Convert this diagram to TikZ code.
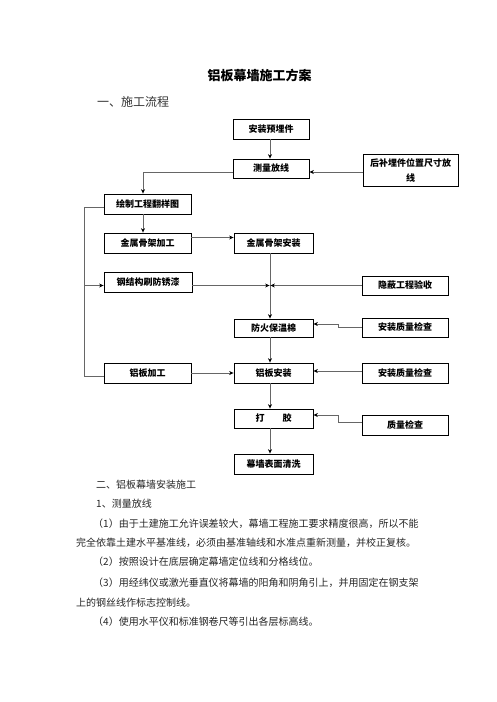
\documentclass[tikz,border=0pt]{standalone}
\usepackage{fontspec}
\setmainfont{Noto Sans CJK SC}
\usetikzlibrary{arrows.meta}
\begin{document}
\begin{tikzpicture}[x=1pt,y=-1pt,
  box/.style={draw=black,line width=0.8pt,inner sep=0pt,font=\fontsize{9}{15}\selectfont\bfseries,align=center},
  conn/.style={draw=black!60,line width=0.8pt},
  arr/.style={conn,-{Stealth[length=4.5pt,width=4pt,color=black]}},
  body/.style={anchor=west,inner sep=0pt,font=\fontsize{10}{12}\selectfont,text=black!85}]
\fill[white] (0,0) rectangle (496,702);
\path[use as bounding box] (0,0) rectangle (496,702);

\node[inner sep=0pt,font=\fontsize{13}{15}\selectfont\bfseries] (title) at (259.5,75) {铝板幕墙施工方案};
\node[anchor=west,inner sep=0pt,font=\fontsize{12}{14}\selectfont,text=black!80] (h1) at (97,102) {一、施工流程};

\node[box,minimum width=76,minimum height=20] (a) at (271,129) {安装预埋件};
\node[box,minimum width=76,minimum height=19] (b) at (271,168.5) {测量放线};
\node[box,minimum width=95,minimum height=32] (c) at (410.5,170) {后补埋件位置尺寸放\\线};
\node[box,minimum width=87,minimum height=20] (d) at (147.5,204) {绘制工程翻样图};
\node[box,minimum width=87,minimum height=20] (e) at (147.5,243) {金属骨架加工};
\node[box,minimum width=79,minimum height=20] (f) at (273.5,243) {金属骨架安装};
\node[box,minimum width=88,minimum height=20] (g) at (148,282) {钢结构刷防锈漆};
\node[box,minimum width=86,minimum height=19] (h) at (405,285.5) {隐蔽工程验收};
\node[box,minimum width=79,minimum height=18] (i) at (273.5,328) {防火保温棉};
\node[box,minimum width=86,minimum height=19] (j) at (405,327.5) {安装质量检查};
\node[box,minimum width=87,minimum height=20] (k) at (147.5,373) {铝板加工};
\node[box,minimum width=79,minimum height=20] (l) at (273.5,373) {铝板安装};
\node[box,minimum width=86,minimum height=20] (m) at (405,373) {安装质量检查};
\node[box,minimum width=79,minimum height=19] (n) at (273.5,418.5) {打\hspace{2em}胶};
\node[box,minimum width=86,minimum height=20] (o) at (405,425) {质量检查};
\node[box,minimum width=79,minimum height=20] (p) at (273.5,464) {幕墙表面清洗};

\coordinate (sp) at (270,0);
\coordinate (lx) at (84,0);
\coordinate (dx) at (143,0);
\coordinate (jx) at (338,0);
\coordinate (J) at (270,285.5);
\coordinate (y172) at (0,172);
\coordinate (y207) at (0,207);
\coordinate (y237) at (0,237.5);
\coordinate (y286) at (0,285.5);
\coordinate (y324) at (0,324);
\coordinate (y371) at (0,371);
\coordinate (y373) at (0,373);
\coordinate (y376) at (0,376);
\coordinate (y415) at (0,415);
\coordinate (y422) at (0,422);

\draw[arr] (a.south -| sp) -- (b.north -| sp);
\draw[arr] (c.west |- y172) -- (b.east |- y172);
\draw[arr] (b.west |- y172) -| (d.north -| dx);
\draw[arr] (d.south -| dx) -- (e.north -| dx);
\draw[arr] (e.east |- y237) -- (f.west |- y237);
\draw[conn] (f.south -| sp) -- (J);
\draw[arr] (J) -- (i.north -| sp);
\draw[arr] (g.east |- y286) -- ([xshift=-0.4pt]J);
\draw[arr] (h.west |- y286) -- ([xshift=0.4pt]J);
\draw[arr] (j.west) -- (j.west -| jx) -- (jx |- y324) -- (i.east |- y324);
\draw[arr] (i.south -| sp) -- (l.north -| sp);
\draw[arr] (k.east |- y373) -- (l.west |- y373);
\draw[arr] (m.west |- y371) -- (l.east |- y371);
\draw[arr] (l.south -| sp) -- (n.north -| sp);
\draw[arr] (o.west |- y422) -- (jx |- y422) -- (jx |- y415) -- (n.east |- y415);
\draw[arr] (n.south -| sp) -- (p.north -| sp);
\draw[conn] (d.west |- y207) -- (lx |- y207) -- (lx |- y376) -- (k.west |- y376);
\draw[arr] (lx |- y286) -- (g.west |- y286);

\node[body] (b1) at (96,485) {二、铝板幕墙安装施工};
\node[body] (b2) at (96,504) {1、测量放线};
\node[body] (b3) at (93,524) {（1）由于土建施工允许误差较大，幕墙工程施工要求精度很高，所以不能};
\node[body] (b4) at (76,543) {完全依靠土建水平基准线，必须由基准轴线和水准点重新测量，并校正复核。};
\node[body] (b5) at (93,562) {（2）按照设计在底层确定幕墙定位线和分格线位。};
\node[body] (b6) at (93,583) {（3）用经纬仪或激光垂直仪将幕墙的阳角和阴角引上，并用固定在钢支架};
\node[body] (b7) at (76,603) {上的钢丝线作标志控制线。};
\node[body] (b8) at (93,622) {（4）使用水平仪和标准钢卷尺等引出各层标高线。};
\end{tikzpicture}
\end{document}
